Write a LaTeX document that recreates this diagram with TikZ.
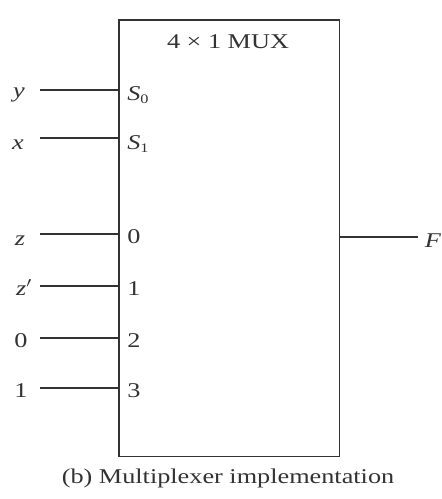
\documentclass[tikz,border=0pt]{standalone}
\usepackage{fontspec}
\setmainfont{Liberation Serif}
\newcommand{\sub}[1]{\raisebox{-0.35ex}{\fontsize{13}{14}\selectfont #1}}
\begin{document}
\begin{tikzpicture}[x=1pt,y=-1pt,
  wire/.style={line width=1.3pt, draw=black!80},
  lbl/.style={font=\fontsize{21}{23}\selectfont, text=black!80, inner sep=0pt, xscale=1.25, anchor=base},
  pin/.style={lbl, anchor=base west}]
\useasboundingbox[fill=white] (0,0) rectangle (442,499);
\node[draw=black!80, line width=1.5pt, minimum width=220.5pt, minimum height=436.7pt, inner sep=0pt] (mux) at (229.25,238.35) {};
\node[lbl] (title) at (228,48) {4 × 1 MUX};
% pins inside box
\node[pin] (s0) at (127,100) {\textit{S}\sub{0}};
\node[pin] (s1) at (127,149) {\textit{S}\sub{1}};
\node[pin] (d0) at (127,243) {0};
\node[pin] (d1) at (127,295) {1};
\node[pin] (d2) at (127,347) {2};
\node[pin] (d3) at (127,397) {3};
% input labels
\node[lbl] (ly) at (19,97) {\textit{y}};
\node[lbl] (lx) at (18,149) {\textit{x}};
\node[lbl] (lz) at (20,245) {\textit{z}};
\node[lbl] (lzp) at (24,295) {\textit{z}$'$};
\node[lbl] (l0) at (21,347) {0};
\node[lbl] (l1) at (21,397) {1};
\coordinate (cy) at (40,90);
\coordinate (cx) at (40,138);
\coordinate (cz) at (40,234);
\coordinate (czp) at (40,286);
\coordinate (c0) at (40,338);
\coordinate (c1) at (40,388);
\foreach \c in {cy,cx,cz,czp,c0,c1} \draw[wire] (\c) -- (\c -| mux.west);
% output
\node[lbl] (lf) at (433,247) {\textit{F}};
\coordinate (cf) at (418,237);
\draw[wire] (cf -| mux.east) -- (cf);
\node[lbl] (cap) at (228,483) {(b) Multiplexer implementation};
\end{tikzpicture}
\end{document}
